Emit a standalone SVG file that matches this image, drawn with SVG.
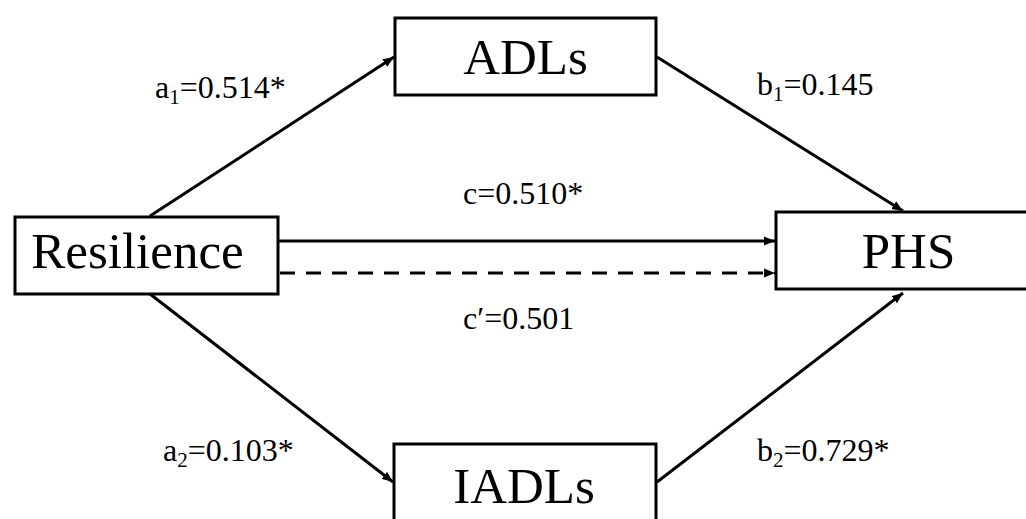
<svg xmlns="http://www.w3.org/2000/svg" width="1026" height="519" viewBox="0 0 1026 519">
<style>
.box{fill:#fff;stroke:#000;stroke-width:3}
.nt{font-family:"Liberation Serif","Times New Roman",serif;font-size:51px;fill:#000;text-anchor:middle}
.lb{font-family:"Liberation Serif","Times New Roman",serif;font-size:32px;fill:#000}
.sub{font-size:21px}
.edge{stroke:#000;stroke-width:3;fill:none}
.dash{stroke-dasharray:15 11}
</style>
<defs>
<marker id="arr" markerUnits="userSpaceOnUse" markerWidth="12" markerHeight="10" refX="11" refY="5" orient="auto">
<path d="M0,0.5 L11,5 L0,9.5 z" fill="#000"/>
</marker>
</defs>
<rect width="1026" height="519" fill="#fff"/>
<g id="connectors">
<line class="edge" x1="150" y1="216" x2="394" y2="57" marker-end="url(#arr)"/>
<line class="edge" x1="657" y1="57" x2="903" y2="211" marker-end="url(#arr)"/>
<line class="edge" x1="279" y1="241" x2="775" y2="241" marker-end="url(#arr)"/>
<line class="edge dash" x1="280" y1="273" x2="775" y2="273" marker-end="url(#arr)"/>
<line class="edge" x1="150" y1="294" x2="393" y2="482" marker-end="url(#arr)"/>
<line class="edge" x1="657" y1="482" x2="903" y2="293" marker-end="url(#arr)"/>
</g>
<g id="node-adls">
<rect class="box" x="395" y="18" width="261" height="77"/>
<text class="nt" x="525.5" y="74">ADLs</text>
</g>
<g id="node-resilience">
<rect class="box" x="15" y="217" width="263" height="77"/>
<text class="nt" x="137.5" y="268">Resilience</text>
</g>
<g id="node-phs">
<rect class="box" x="776" y="212" width="260" height="77"/>
<text class="nt" x="908.5" y="268">PHS</text>
</g>
<g id="node-iadls">
<rect class="box" x="394" y="444" width="262" height="90"/>
<text class="nt" x="524" y="503">IADLs</text>
</g>
<g id="labels">
<text class="lb" x="155" y="98">a<tspan class="sub" dy="6">1</tspan><tspan dy="-6">=0.514*</tspan></text>
<text class="lb" x="757" y="95">b<tspan class="sub" dy="6">1</tspan><tspan dy="-6">=0.145</tspan></text>
<text class="lb" x="463" y="204">c=0.510*</text>
<text class="lb" x="463" y="329">c′=0.501</text>
<text class="lb" x="163" y="461">a<tspan class="sub" dy="6">2</tspan><tspan dy="-6">=0.103*</tspan></text>
<text class="lb" x="757" y="461">b<tspan class="sub" dy="6">2</tspan><tspan dy="-6">=0.729*</tspan></text>
</g>
</svg>
